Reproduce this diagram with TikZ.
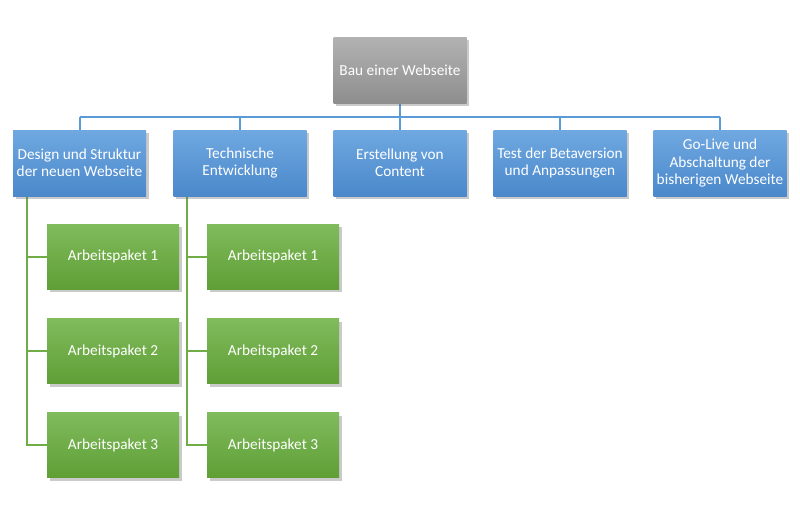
\documentclass[tikz,border=0pt]{standalone}
\usepackage{fontspec}
\setmainfont{Carlito}
\usetikzlibrary{shadows,backgrounds}
\definecolor{gtop}{HTML}{B2B2B2}
\definecolor{gbot}{HTML}{8E8E8E}
\definecolor{btop}{HTML}{70A9E1}
\definecolor{bbot}{HTML}{4A88CB}
\definecolor{grtop}{HTML}{80BB5C}
\definecolor{grbot}{HTML}{5F9F36}
\definecolor{bline}{HTML}{5B9BD5}
\definecolor{gline}{HTML}{70AD47}
\tikzset{
  box/.style={minimum width=133pt, minimum height=66pt, inner sep=2pt, align=center,
    text=white, font=\fontsize{15.3}{17.3}\selectfont,
    drop shadow={shadow xshift=2.5pt, shadow yshift=-3pt, opacity=0.35, fill=black!60}},
  topbox/.style={box, top color=gtop, bottom color=gbot},
  bluebox/.style={box, top color=btop, bottom color=bbot},
  greenbox/.style={box, minimum width=132pt, minimum height=65pt, top color=grtop, bottom color=grbot},
  bconn/.style={draw=bline, line width=2pt},
  gconn/.style={draw=gline, line width=2pt},
}
\begin{document}
\begin{tikzpicture}[x=1pt,y=-1pt]
\useasboundingbox (0,0) rectangle (800,515);
\node[topbox] (top) at (400,70) {Bau einer Webseite};
\node[bluebox] (b1) at (79.5,163) {Design und Struktur\\der neuen Webseite};
\node[bluebox] (b2) at (240,163) {Technische\\Entwicklung};
\node[bluebox] (b3) at (400,163) {Erstellung von\\Content};
\node[bluebox] (b4) at (560,163) {Test der Betaversion\\und Anpassungen};
\node[bluebox] (b5) at (720,163) {Go-Live und\\Abschaltung der\\bisherigen Webseite};
\node[greenbox] (g11) at (113,256.5) {Arbeitspaket 1};
\node[greenbox] (g12) at (113,351) {Arbeitspaket 2};
\node[greenbox] (g13) at (113,445) {Arbeitspaket 3};
\node[greenbox] (g21) at (273,256.5) {Arbeitspaket 1};
\node[greenbox] (g22) at (273,351) {Arbeitspaket 2};
\node[greenbox] (g23) at (273,445) {Arbeitspaket 3};
\coordinate (bus) at (0,117);
\coordinate (s1) at (27,196);
\coordinate (s2) at (187,196);
\begin{scope}[on background layer]
\draw[bconn] (top.south) -- (top.south |- bus);
\draw[bconn] (b1.north |- bus) -- (b5.north |- bus);
\foreach \b in {b1,b2,b3,b4,b5}{\draw[bconn] (\b.north |- bus) -- (\b.north);}
\draw[gconn] (s1) |- (g13.west);
\draw[gconn] (s1 |- g11.west) -- (g11.west);
\draw[gconn] (s1 |- g12.west) -- (g12.west);
\draw[gconn] (s2) |- (g23.west);
\draw[gconn] (s2 |- g21.west) -- (g21.west);
\draw[gconn] (s2 |- g22.west) -- (g22.west);
\end{scope}
\end{tikzpicture}
\end{document}
